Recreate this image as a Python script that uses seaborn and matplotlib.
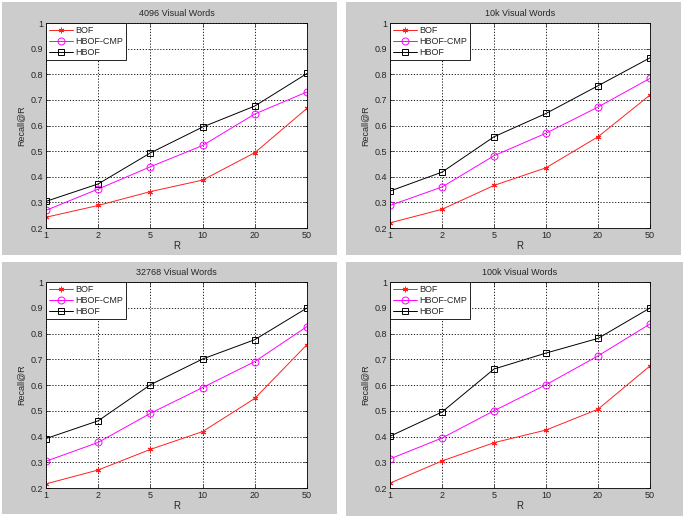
import numpy as np
import pandas as pd
import matplotlib
matplotlib.use("Agg")
import matplotlib.pyplot as plt
import seaborn as sns
from matplotlib.patches import Rectangle

sns.set_style("white")
plt.rcParams['font.family'] = ['Liberation Sans', 'DejaVu Sans']

r_labels = ['1', '2', '5', '10', '20', '50']
titles = ['4096 Visual Words', '10k Visual Words', '32768 Visual Words', '100k Visual Words']

bof_4096 = [0.242, 0.288, 0.342, 0.387, 0.494, 0.667]
cmp_4096 = [0.269, 0.352, 0.439, 0.522, 0.645, 0.731]
hbof_4096 = [0.304, 0.372, 0.493, 0.594, 0.676, 0.803]

bof_10k = [0.220, 0.273, 0.366, 0.435, 0.556, 0.719]
cmp_10k = [0.288, 0.360, 0.482, 0.570, 0.672, 0.784]
hbof_10k = [0.344, 0.418, 0.556, 0.647, 0.755, 0.864]

bof_32768 = [0.216, 0.270, 0.350, 0.419, 0.548, 0.757]
cmp_32768 = [0.304, 0.377, 0.490, 0.590, 0.691, 0.827]
hbof_32768 = [0.392, 0.461, 0.601, 0.701, 0.776, 0.899]

bof_100k = [0.219, 0.305, 0.376, 0.425, 0.506, 0.674]
cmp_100k = [0.313, 0.394, 0.500, 0.601, 0.713, 0.837]
hbof_100k = [0.401, 0.495, 0.662, 0.724, 0.781, 0.899]

panels = [
    (bof_4096, cmp_4096, hbof_4096),
    (bof_10k, cmp_10k, hbof_10k),
    (bof_32768, cmp_32768, hbof_32768),
    (bof_100k, cmp_100k, hbof_100k),
]

W, H = 683, 516
fig = plt.figure(figsize=(W / 100, H / 100), dpi=100)
fig.patch.set_facecolor('white')

# gray panel backgrounds (pixel boxes: x0, y0, x1, y1)
gray_boxes = [(2, 2, 337, 255), (346, 2, 681, 255), (2, 262, 337, 514), (346, 262, 683, 516)]
for x0, y0, x1, y1 in gray_boxes:
    fig.add_artist(Rectangle((x0 / W, 1 - y1 / H), (x1 - x0) / W, (y1 - y0) / H,
                             transform=fig.transFigure, facecolor='#cccccc',
                             edgecolor='none', zorder=-10))

ax_boxes = [(46, 23, 307, 228), (390, 23, 650, 228), (46, 282, 307, 488), (390, 282, 650, 488)]

# matlab-ish asterisk for BOF
styles = [
    ('BOF', '#ff2020', (6, 2, 0), 4),
    ('HBOF-CMP', '#ff00ff', 'o', 5),
    ('HBOF', 'black', 's', 5),
]

fs = 6.5
xs = np.arange(len(r_labels))
for (x0, y0, x1, y1), title, series in zip(ax_boxes, titles, panels):
    ax = fig.add_axes([x0 / W, 1 - y1 / H, (x1 - x0) / W, (y1 - y0) / H])
    ax.set_facecolor('white')
    for (name, col, mk, ms), vals in zip(styles, series):
        df = pd.DataFrame({'R': xs, 'Recall': vals})
        sns.lineplot(data=df, x='R', y='Recall', ax=ax, color=col, marker=mk,
                     markersize=ms, mfc='none', mec=col,
                     mew=0.7, linewidth=0.7, label=name)
    ax.set_xlim(0, 5)
    ax.set_ylim(0.2, 1.0)
    ax.set_xticks(xs)
    ax.set_xticklabels(r_labels)
    ax.set_yticks(np.arange(0.2, 1.01, 0.1))
    ax.set_yticklabels(['0.2', '0.3', '0.4', '0.5', '0.6', '0.7', '0.8', '0.9', '1'])
    ax.tick_params(direction='in', length=3, width=0.5, labelsize=fs, pad=2,
                   top=True, right=True, bottom=True, left=True)
    ax.grid(True, color='black', linestyle=(0, (1.5, 2)), linewidth=0.6)
    for sp in ax.spines.values():
        sp.set_color('black')
        sp.set_linewidth(0.6)
    ax.set_xlabel('R', fontsize=fs + 0.5, labelpad=1)
    ax.set_ylabel('Recall@R', fontsize=fs, labelpad=4)
    ax.set_title(title, fontsize=fs, pad=5)
    leg = ax.legend(loc='upper left', fontsize=fs, frameon=True, fancybox=False,
                    borderaxespad=0, handlelength=2.7, borderpad=0.3,
                    labelspacing=0.25, handletextpad=0.25)
    leg.get_frame().set_edgecolor('black')
    leg.get_frame().set_linewidth(0.6)
    leg.get_frame().set_alpha(1)

fig.savefig('out.png', dpi=100, facecolor=fig.get_facecolor())
